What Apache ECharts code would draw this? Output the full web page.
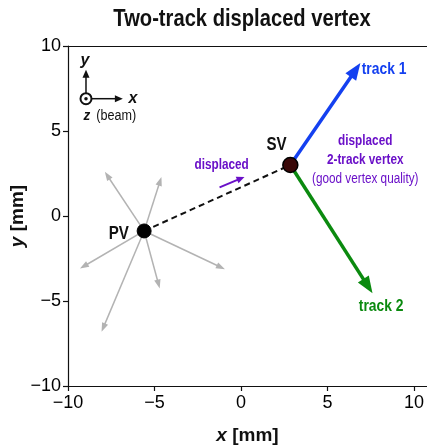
<!DOCTYPE html>
<html>
<head>
<meta charset="utf-8">
<script src="https://cdn.jsdelivr.net/npm/echarts@6/dist/echarts.min.js"></script>
<style>
  html, body {margin: 0; padding: 0; background: #fff;}
  #chart {width: 427px; height: 445px;}
</style>
</head>
<body>
<div id="chart"></div>
<script>
// axis ticks
const xTicks = [-10, -5, 0, 5, 10];
const yTicks = [-10, -5, 0, 5, 10];

// vertices [x, y] in mm
const pv = [-5.6, -0.88];
const sv = [2.85, 3.0];

// track end points
const track1Tip = [6.9, 9.0];
const track2Tip = [7.6, -4.55];

// prompt tracks from the PV (end points)
const promptTips = [[-7.87, 2.6], [-4.6, 2.3], [-9.31, -3.09], [-0.93, -3.13], [-4.7, -4.26], [-8.06, -6.81]];

// small "displaced" arrow
const dispArrowStart = [-1.24, 1.68];
const dispArrowEnd = [0.2, 2.3];

// coordinate-frame inset
const frameOrigin = [-8.96, 6.9];
const frameYTip = [-8.96, 8.6];
const frameXTip = [-6.83, 6.9];

// annotation anchors
const pvLabelAt = [-7.06, -1.05];
const svLabelAt = [2.05, 4.15];
const track1LabelAt = [8.27, 8.6];
const track2LabelAt = [8.1, -5.35];
const dispLabelAt = [-1.12, 3.0];
const vertexNoteAt = [7.18, 3.3];
const frameYLabelAt = [-9.02, 9.15];
const frameXLabelAt = [-6.25, 6.9];
const frameZLabelAt = [-7.58, 5.9];

const SANS = '"Liberation Sans", Arial, sans-serif';
const SQUEEZE = 0.84;   // condensed look, no narrow font installed
const PURPLE = '#6a10c8';
const BLUE = '#1440f0';
const GREEN = '#0b8a0f';
const INK = '#111';

function arrowSeries(name, rows, color, width, headLen, headWidth, z) {
    return {
        type: 'custom',
        name: name,
        z: z,
        silent: true,
        encode: {x: [0, 2], y: [1, 3]},
        data: rows,
        renderItem: function (params, api) {
            const p0 = api.coord([api.value(0), api.value(1)]);
            const p1 = api.coord([api.value(2), api.value(3)]);
            const dx = p1[0] - p0[0], dy = p1[1] - p0[1];
            const len = Math.sqrt(dx * dx + dy * dy);
            const ux = dx / len, uy = dy / len;
            const b = [p1[0] - ux * headLen, p1[1] - uy * headLen];
            const l = [b[0] - uy * headWidth / 2, b[1] + ux * headWidth / 2];
            const r = [b[0] + uy * headWidth / 2, b[1] - ux * headWidth / 2];
            return {
                type: 'group',
                children: [
                    {type: 'line', shape: {x1: p0[0], y1: p0[1], x2: b[0] + ux, y2: b[1] + uy},
                        style: {stroke: color, lineWidth: width}},
                    {type: 'polygon', shape: {points: [p1, l, r]}, style: {fill: color}}
                ]
            };
        }
    };
}

function textSeries(name, at, text, style, squeeze) {
    return {
        type: 'custom',
        name: name,
        silent: true,
        z: 20,
        data: [at],
        renderItem: function (params, api) {
            const p = api.coord([api.value(0), api.value(1)]);
            return {
                type: 'text',
                x: p[0],
                y: p[1],
                scaleX: squeeze == null ? SQUEEZE : squeeze,
                style: Object.assign({text: text, align: 'center', verticalAlign: 'middle', fontFamily: SANS}, style)
            };
        }
    };
}

const chart = echarts.init(document.getElementById('chart'));

const promptRows = promptTips.map(t => [pv[0], pv[1], t[0], t[1]]);

chart.setOption({
    animation: false,
    graphic: [{
        type: 'text',
        x: 242,
        y: 19,
        scaleX: SQUEEZE,
        silent: true,
        style: {
            text: 'Two-track displaced vertex', align: 'center', verticalAlign: 'middle',
            fontFamily: SANS, fontWeight: 'bold', fontSize: 24, fill: INK
        }
    }],
    grid: {left: 68, right: 0, top: 46, bottom: 59, containLabel: false, outerBoundsMode: 'none'},
    xAxis: {
        type: 'value',
        min: xTicks[0],
        max: 10.75,
        interval: 5,
        splitLine: {show: false},
        axisLine: {onZero: false, lineStyle: {color: INK, width: 1.2}},
        axisTick: {length: 5, lineStyle: {color: INK, width: 1.2}},
        axisLabel: {
            margin: 8, fontFamily: SANS, fontSize: 18, color: '#000', showMaxLabel: false,
            formatter: v => (xTicks.indexOf(v) >= 0 ? String(v).replace('-', '\u2212') : '')
        },
        name: '{i|x} [mm]',
        nameLocation: 'middle',
        nameGap: 40,
        nameMoveOverlap: false,
        nameTextStyle: {
            fontFamily: SANS, fontWeight: 'bold', fontSize: 19, color: INK,
            rich: {i: {fontFamily: SANS, fontWeight: 'bold', fontStyle: 'italic', fontSize: 19, color: INK}}
        }
    },
    yAxis: {
        type: 'value',
        min: yTicks[0],
        max: yTicks[yTicks.length - 1],
        interval: 5,
        splitLine: {show: false},
        axisLine: {show: true, onZero: false, lineStyle: {color: INK, width: 1.2}},
        axisTick: {show: true, length: 5, lineStyle: {color: INK, width: 1.2}},
        axisLabel: {
            margin: 7, fontFamily: SANS, fontSize: 18, color: '#000',
            formatter: v => String(v).replace('-', '\u2212')
        },
        name: '{i|y} [mm]',
        nameLocation: 'middle',
        nameRotate: 90,
        nameGap: 41,
        nameMoveOverlap: false,
        nameTextStyle: {
            fontFamily: SANS, fontWeight: 'bold', fontSize: 19, color: INK,
            rich: {i: {fontFamily: SANS, fontWeight: 'bold', fontStyle: 'italic', fontSize: 19, color: INK}}
        }
    },
    series: [
        arrowSeries('prompt', promptRows, '#b3b3b3', 1.5, 9, 6.5, 2),
        {
            type: 'line',
            name: 'flight',
            data: [pv, sv],
            symbol: 'none',
            silent: true,
            z: 3,
            lineStyle: {color: INK, width: 2, type: [6, 4], opacity: 1},
            markLine: {
                silent: true,
                symbol: 'none',
                label: {show: false},
                lineStyle: {color: INK, width: 1.2, type: 'solid'},
                data: [{yAxis: yTicks[yTicks.length - 1]}]
            }
        },
        arrowSeries('track 1', [[sv[0], sv[1], track1Tip[0], track1Tip[1]]], BLUE, 3.5, 17, 13, 4),
        arrowSeries('track 2', [[sv[0], sv[1], track2Tip[0], track2Tip[1]]], GREEN, 3.5, 17, 13, 4),
        arrowSeries('displaced', [[dispArrowStart[0], dispArrowStart[1], dispArrowEnd[0], dispArrowEnd[1]]], PURPLE, 2, 8, 7, 4),
        arrowSeries('frame', [
            [frameOrigin[0], frameOrigin[1] + 0.3, frameYTip[0], frameYTip[1]],
            [frameOrigin[0] + 0.3, frameOrigin[1], frameXTip[0], frameXTip[1]]
        ], INK, 1.5, 8, 7, 4),
        {
            type: 'scatter',
            name: 'vertices',
            silent: true,
            z: 10,
            data: [
                {value: pv, symbolSize: 14, itemStyle: {color: '#000', borderColor: '#000', borderWidth: 1, opacity: 1}},
                {value: sv, symbolSize: 15, itemStyle: {color: '#3a0808', borderColor: '#000', borderWidth: 1.5, opacity: 1}}
            ]
        },
        {
            type: 'scatter',
            name: 'beam',
            silent: true,
            z: 10,
            data: [
                {value: frameOrigin, symbolSize: 11, itemStyle: {color: '#fff', borderColor: INK, borderWidth: 2, opacity: 1}},
                {value: frameOrigin, symbolSize: 3.5, itemStyle: {color: INK, opacity: 1}}
            ]
        },
        textSeries('pvLabel', pvLabelAt, 'PV', {fontWeight: 'bold', fontSize: 18, fill: INK}),
        textSeries('svLabel', svLabelAt, 'SV', {fontWeight: 'bold', fontSize: 18, fill: INK}),
        textSeries('t1Label', track1LabelAt, 'track 1', {fontWeight: 'bold', fontSize: 16.5, fill: BLUE}),
        textSeries('t2Label', track2LabelAt, 'track 2', {fontWeight: 'bold', fontSize: 16.5, fill: GREEN}),
        textSeries('dispLabel', dispLabelAt, 'displaced', {fontWeight: 'bold', fontSize: 14, fill: PURPLE}),
        textSeries('note', vertexNoteAt, '{b|displaced}\n{b|2-track vertex}\n{n|(good vertex quality)}', {
            rich: {
                b: {fontFamily: SANS, fontWeight: 'bold', fontSize: 14, fill: PURPLE, lineHeight: 19, align: 'center'},
                n: {fontFamily: SANS, fontSize: 14, fill: PURPLE, lineHeight: 19, align: 'center'}
            }
        }),
        textSeries('fy', frameYLabelAt, 'y', {fontWeight: 'bold', fontStyle: 'italic', fontSize: 16, fill: INK}, 1),
        textSeries('fx', frameXLabelAt, 'x', {fontWeight: 'bold', fontStyle: 'italic', fontSize: 16, fill: INK}, 1),
        textSeries('fz', frameZLabelAt, '{i|z}  {r|(beam)}', {
            rich: {
                i: {fontFamily: SANS, fontWeight: 'bold', fontStyle: 'italic', fontSize: 15, fill: INK},
                r: {fontFamily: SANS, fontSize: 14, fill: INK}
            }
        }, 0.9)
    ]
});
</script>
</body>
</html>
